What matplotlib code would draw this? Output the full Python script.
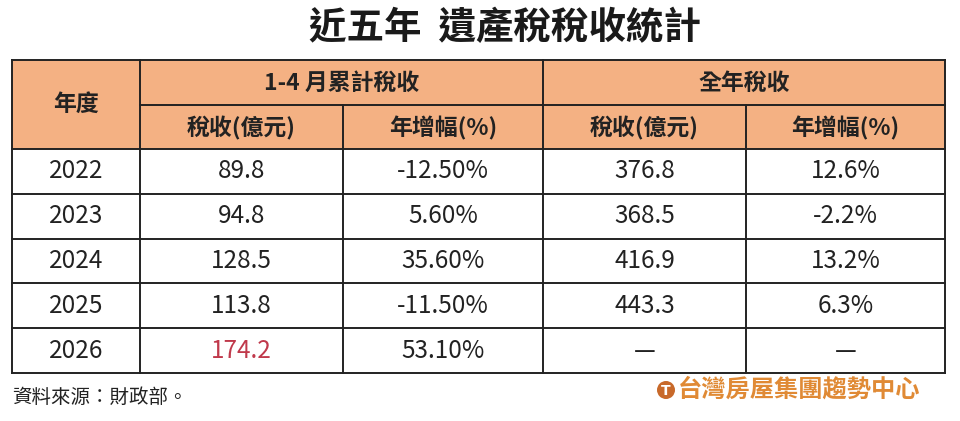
import matplotlib.pyplot as plt
from matplotlib.patches import Rectangle, Circle

plt.rcParams['font.family'] = ['Noto Sans CJK TC', 'DejaVu Sans']

title = "近五年  遺產稅稅收統計"
group_labels = ["1-4 月累計稅收", "全年稅收"]
sub_labels = ["稅收(億元)", "年增幅(%)", "稅收(億元)", "年增幅(%)"]
years = ["2022", "2023", "2024", "2025", "2026"]
jan_apr_tax = ["89.8", "94.8", "128.5", "113.8", "174.2"]
jan_apr_growth = ["-12.50%", "5.60%", "35.60%", "-11.50%", "53.10%"]
full_year_tax = ["376.8", "368.5", "416.9", "443.3", "—"]
full_year_growth = ["12.6%", "-2.2%", "13.2%", "6.3%", "—"]
source = "資料來源：財政部。"
brand = "台灣房屋集團趨勢中心"

head_color = "#F4B183"
line_color = "#222222"

fig = plt.figure(figsize=(9.6, 4.21), dpi=100)
ax = fig.add_axes([0, 0, 1, 1])
ax.set_xlim(0, 960)
ax.set_ylim(421, 0)
ax.axis("off")

# column edges and row edges (pixels)
xs = [12, 140, 343, 543, 746, 945]
y_top, y_mid, y_head = 60, 105, 149
row_h = 44.8
ys = [y_head + i * row_h for i in range(len(years) + 1)]

ax.text(505, 28, title, ha="center", va="center", fontsize=27, fontweight="bold",
        color="#1a1a1a")

# header background
ax.add_patch(Rectangle((xs[0], y_top), xs[-1] - xs[0], y_head - y_top,
                       facecolor=head_color, edgecolor="none"))

lw = 1.4
# outer + horizontal lines
ax.plot([xs[0], xs[-1]], [y_top, y_top], color=line_color, lw=lw)
ax.plot([xs[1], xs[-1]], [y_mid, y_mid], color=line_color, lw=lw)
for y in ys:
    ax.plot([xs[0], xs[-1]], [y, y], color=line_color, lw=lw)
# vertical lines
for i, x in enumerate(xs):
    if i in (2, 4):
        ax.plot([x, x], [y_mid, ys[-1]], color=line_color, lw=lw)
    else:
        ax.plot([x, x], [y_top, ys[-1]], color=line_color, lw=lw)

hfs = 16.5
hw = "bold"
ax.text((xs[0] + xs[1]) / 2, (y_top + y_head) / 2, "年度", ha="center", va="center",
        fontsize=hfs, fontweight=hw, color="#222222")
ax.text((xs[1] + xs[3]) / 2, (y_top + y_mid) / 2 + 1, group_labels[0], ha="center",
        va="center", fontsize=hfs, fontweight=hw, color="#222222")
ax.text((xs[3] + xs[5]) / 2, (y_top + y_mid) / 2 + 1, group_labels[1], ha="center",
        va="center", fontsize=hfs, fontweight=hw, color="#222222")
for j, lab in enumerate(sub_labels):
    ax.text((xs[j + 1] + xs[j + 2]) / 2, (y_mid + y_head) / 2 + 1, lab, ha="center",
            va="center", fontsize=hfs, fontweight=hw, color="#222222")

cols = [years, jan_apr_tax, jan_apr_growth, full_year_tax, full_year_growth]
dfs = 17.5
for i in range(len(years)):
    yc = (ys[i] + ys[i + 1]) / 2
    for j, col in enumerate(cols):
        color = "#222222"
        if j == 1 and i == len(years) - 1:
            color = "#C0394B"
        ax.text((xs[j] + xs[j + 1]) / 2, yc, col[i], ha="center", va="center",
                fontsize=dfs, color=color)

ax.text(xs[0], 397, source, ha="left", va="center", fontsize=14, color="#222222")

# brand logo
ax.add_patch(Circle((666, 390), 9, facecolor="#C8692A", edgecolor="none"))
ax.text(666, 391, "T", ha="center", va="center", fontsize=10, color="white",
        fontweight="bold", family="DejaVu Sans")
ax.text(678, 390, brand, ha="left", va="center", fontsize=17.5, color="#E08A35",
        fontweight="black")

fig.savefig("out.png", dpi=100, facecolor="white")
